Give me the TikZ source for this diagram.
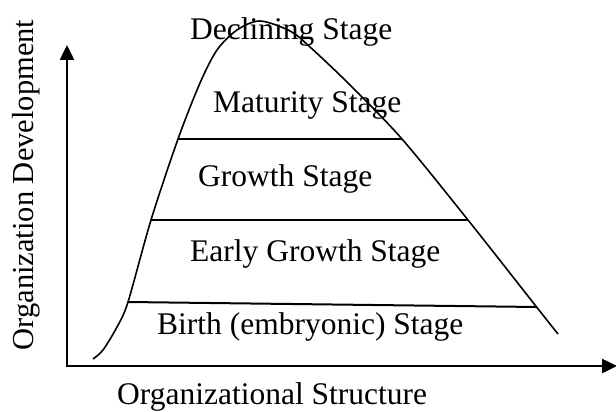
\documentclass[tikz,border=0pt]{standalone}
\usepackage{fontspec}
\setmainfont{Liberation Serif}
\usetikzlibrary{arrows.meta}

\begin{document}
\begin{tikzpicture}[x=1pt, y=-1pt,
  axis/.style={line width=2.5pt, -{Triangle[length=15pt, width=14pt]}},
  stageline/.style={line width=2pt},
  lifecurve/.style={line width=1.6pt},
  stagelabel/.style={font=\fontsize{31.5}{36}\selectfont, inner sep=0pt, anchor=base west}
  ]
  \useasboundingbox (0,0) rectangle (616,412);

  % axes
  \coordinate (origin) at (67,366);
  \coordinate (ytip) at (67,45);
  \coordinate (xtip) at (617,366);
  \draw[axis] ([yshift=1.25pt]origin) -- (ytip);
  \draw[axis] ([xshift=-1.25pt]origin) -- (xtip);

  % points on the life curve
  \coordinate (start) at (93,359);
  \coordinate (birth-l) at (128,302);
  \coordinate (early-l) at (151,220);
  \coordinate (growth-l) at (178,139);
  \coordinate (peak) at (260,21);
  \coordinate (growth-r) at (402,139);
  \coordinate (early-r) at (468,220);
  \coordinate (birth-r) at (537,307);
  \coordinate (end) at (558,334);

  \draw[lifecurve] plot[smooth, tension=0.5] coordinates
    {(start) (103,350) (117,327) (birth-l) (early-l) (growth-l) (200,83) (217,50) (237,30)
     (peak) (290,31) (310,47) (350,85) (growth-r) (early-r) (535,305) (end)};

  % stage boundaries
  \draw[stageline] (birth-l) -- (birth-r);
  \draw[stageline] (early-l) -- (early-r);
  \draw[stageline] (growth-l) -- (growth-r);

  % labels
  \node[stagelabel] (declining) at (190,40) {Declining Stage};
  \node[stagelabel] (maturity) at (213,113) {Maturity Stage};
  \node[stagelabel] (growth) at (198,186) {Growth Stage};
  \node[stagelabel] (early) at (190,261) {Early Growth Stage};
  \node[stagelabel] (birth) at (157,334) {Birth (embryonic) Stage};
  \node[stagelabel] (xlabel) at (117,404) {Organizational Structure};
  \node[stagelabel, font=\fontsize{30.5}{34}\selectfont, anchor=base, rotate=90] (ylabel) at (33,185) {Organization Development};
\end{tikzpicture}
\end{document}
